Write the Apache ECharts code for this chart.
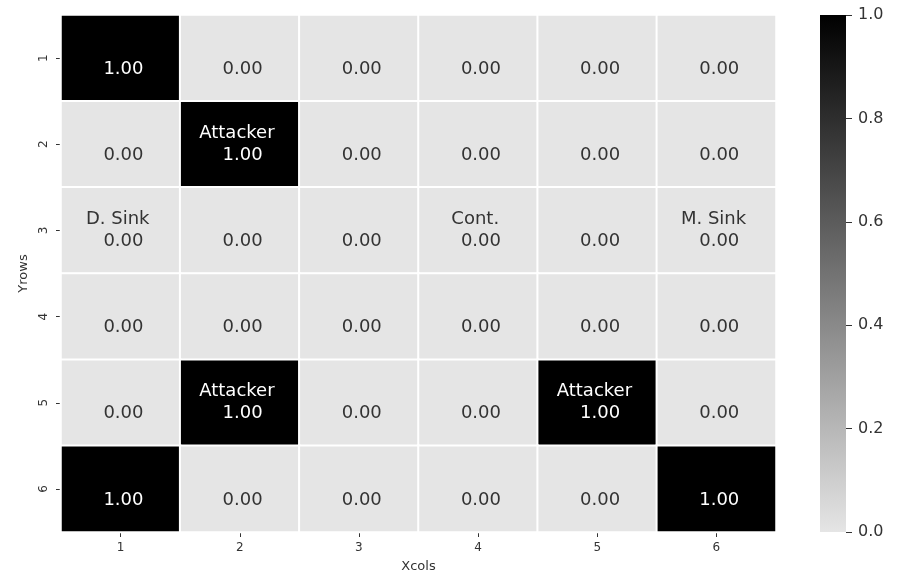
<!DOCTYPE html>
<html lang="en">
<head>
  <meta charset="UTF-8">
  <title>Heatmap</title>
  <script src="https://cdn.jsdelivr.net/npm/echarts@6/dist/echarts.min.js"></script>
</head>
<body style="margin:0">
<div id="main" style="width: 912px;height:582px;"></div>
<script type="text/javascript">

var xcols = ['1', '2', '3', '4', '5', '6'];
var yrows = ['1', '2', '3', '4', '5', '6'];
// values[row][col]
var values = [
  [1, 0, 0, 0, 0, 0],
  [0, 1, 0, 0, 0, 0],
  [0, 0, 0, 0, 0, 0],
  [0, 0, 0, 0, 0, 0],
  [0, 1, 0, 0, 1, 0],
  [1, 0, 0, 0, 0, 1]
];
var names = [
  ['', '', '', '', '', ''],
  ['', 'Attacker', '', '', '', ''],
  ['D. Sink', '', '', 'Cont.', '', 'M. Sink'],
  ['', '', '', '', '', ''],
  ['', 'Attacker', '', '', 'Attacker', ''],
  ['', '', '', '', '', '']
];
var colorTicks = [0, 0.2, 0.4, 0.6, 0.8, 1.0];

var cells = [];
for (var r = 0; r < yrows.length; r++) {
  for (var c = 0; c < xcols.length; c++) {
    var v = values[r][c];
    cells.push({
      value: [c, r, v],
      label: {
        color: v > 0.5 ? '#ffffff' : '#333333',
        // matplotlib-style: name + space on top line, value with leading space below
        formatter: names[r][c] + ' \n ' + v.toFixed(2)
      }
    });
  }
}

var myChart = echarts.init(document.getElementById('main'));

var option = {
  backgroundColor: '#ffffff',
  animation: false,
  grid: [
    { left: 61, top: 15, width: 715, height: 517 },
    { left: 820, top: 15, width: 26, height: 517 }
  ],
  visualMap: {
    show: false,
    seriesIndex: 0,
    min: 0,
    max: 1,
    dimension: 2,
    inRange: { color: ['#e5e5e5', '#000000'] }
  },
  xAxis: [{
    type: 'category',
    gridIndex: 0,
    data: xcols,
    name: 'Xcols',
    nameLocation: 'middle',
    nameGap: 28,
    nameTextStyle: { fontSize: 13, color: '#333', fontFamily: 'DejaVu Sans' },
    axisLine: { show: false },
    axisTick: { show: true, alignWithLabel: true, length: 5, lineStyle: { color: '#333' } },
    axisLabel: { fontSize: 12, color: '#333', margin: 10, fontFamily: 'DejaVu Sans' },
    splitLine: { show: false }
  }, {
    type: 'category',
    gridIndex: 1,
    data: [''],
    show: false
  }],
  yAxis: [{
    type: 'category',
    gridIndex: 0,
    data: yrows,
    inverse: true,
    name: 'Yrows',
    nameLocation: 'middle',
    nameGap: 31,
    nameTextStyle: { fontSize: 13, color: '#333', fontFamily: 'DejaVu Sans' },
    axisLine: { show: false },
    axisTick: { show: true, alignWithLabel: true, length: 5, lineStyle: { color: '#333' } },
    axisLabel: { fontSize: 12, color: '#333', rotate: 90, margin: 11, fontFamily: 'DejaVu Sans' },
    splitLine: { show: false }
  }, {
    type: 'value',
    gridIndex: 1,
    position: 'right',
    min: 0,
    max: 1,
    interval: 0.2,
    axisLine: { show: false },
    axisTick: { show: true, length: 6, lineStyle: { color: '#333' } },
    axisLabel: {
      fontSize: 16, color: '#333', margin: 12, fontFamily: 'DejaVu Sans',
      formatter: function (v) { return v.toFixed(1); }
    },
    splitLine: { show: false }
  }],
  series: [{
    type: 'heatmap',
    xAxisIndex: 0,
    yAxisIndex: 0,
    data: cells,
    label: {
      show: true,
      fontSize: 18,
      lineHeight: 22,
      fontFamily: 'DejaVu Sans'
    },
    itemStyle: { borderColor: '#ffffff', borderWidth: 2 },
    emphasis: { disabled: true }
  }, {
    type: 'bar',
    xAxisIndex: 1,
    yAxisIndex: 1,
    data: [colorTicks[colorTicks.length - 1]],
    barWidth: '100%',
    itemStyle: {
      color: new echarts.graphic.LinearGradient(0, 0, 0, 1, [
        { offset: 0, color: '#000000' },
        { offset: 1, color: '#e5e5e5' }
      ])
    },
    silent: true
  }]
};

myChart.setOption(option);

</script>
</body>
</html>
